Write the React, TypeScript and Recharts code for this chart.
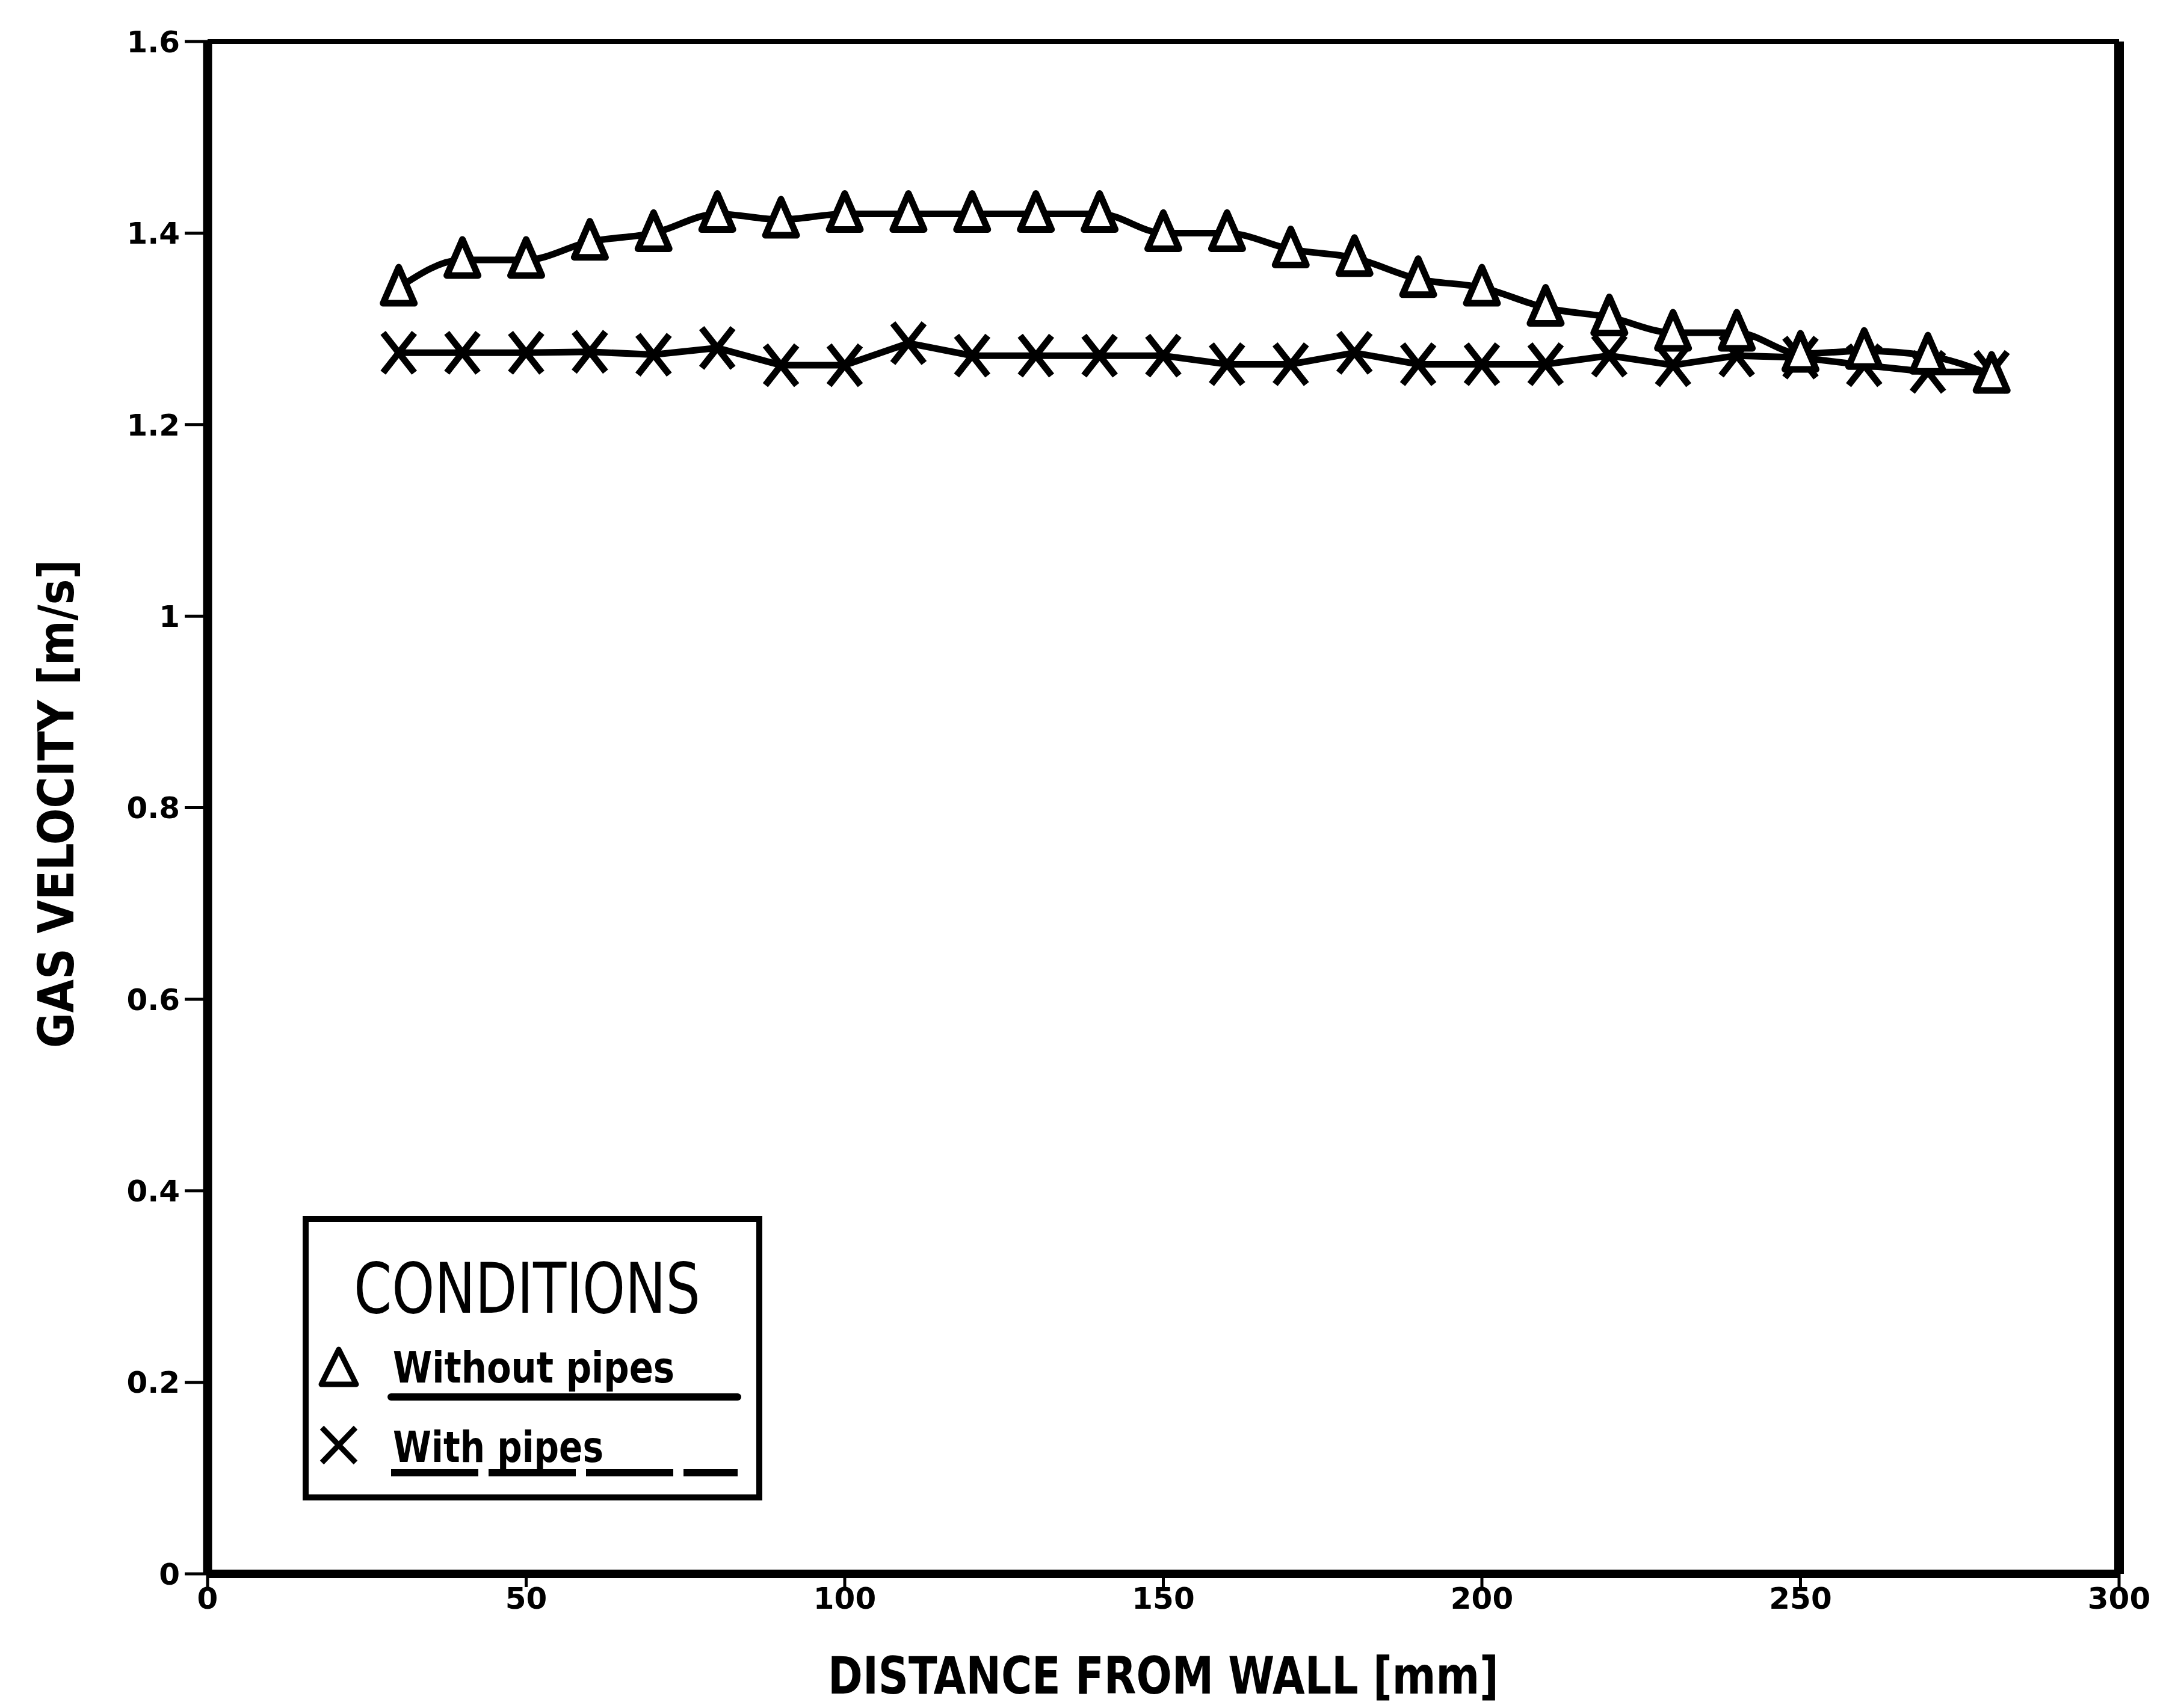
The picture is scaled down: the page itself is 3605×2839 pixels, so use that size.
import React from 'react';
import { LineChart, Line, XAxis, YAxis, ReferenceLine } from 'recharts';

const distances = [30, 40, 50, 60, 70, 80, 90, 100, 110, 120, 130, 140, 150, 160, 170, 180, 190, 200, 210, 220, 230, 240, 250, 260, 270, 280];
const withoutPipes = [1.343, 1.372, 1.372, 1.391, 1.4, 1.42, 1.414, 1.42, 1.42, 1.42, 1.42, 1.42, 1.4, 1.4, 1.383, 1.374, 1.352, 1.343, 1.322, 1.312, 1.296, 1.296, 1.274, 1.277, 1.272, 1.252];
const withPipes = [1.275, 1.275, 1.275, 1.276, 1.273, 1.28, 1.262, 1.262, 1.285, 1.272, 1.272, 1.272, 1.272, 1.263, 1.263, 1.275, 1.263, 1.263, 1.263, 1.272, 1.262, 1.272, 1.27, 1.262, 1.255, 1.255];
const xTicks = [0, 50, 100, 150, 200, 250, 300];
const yTicks = [0, 0.2, 0.4, 0.6, 0.8, 1, 1.2, 1.4, 1.6];

const data = distances.map((x, i) => ({ x, without: withoutPipes[i], with: withPipes[i] }));

const condensed = '"DejaVu Sans Condensed", "Liberation Sans Narrow", "DejaVu Sans", sans-serif';
const bold = '"DejaVu Sans", sans-serif';

const TriangleDot = (props: any) => {
  const { cx, cy } = props;
  if (cx == null || cy == null) return null;
  return (
    <path
      d={`M${cx},${cy - 34} L${cx + 26},${cy + 26} L${cx - 26},${cy + 26} Z`}
      fill="#fff"
      stroke="#000"
      strokeWidth={11}
      strokeLinejoin="round"
    />
  );
};

const CrossDot = (props: any) => {
  const { cx, cy } = props;
  if (cx == null || cy == null) return null;
  return (
    <path
      d={`M${cx - 26},${cy - 33} L${cx + 26},${cy + 33} M${cx + 26},${cy - 33} L${cx - 26},${cy + 33}`}
      stroke="#000"
      strokeWidth={11}
      fill="none"
    />
  );
};

const ConditionsBox = () => (
  <svg width={764} height={473} style={{ position: 'absolute', left: 503, top: 2021, display: 'block' }}>
    <rect x={5} y={5} width={754} height={463} fill="#fff" stroke="#000" strokeWidth={10} />
    <text x={373} y={161} textAnchor="middle" fontFamily={condensed} fontSize={116} textLength={576} lengthAdjust="spacingAndGlyphs" fill="#000">
      CONDITIONS
    </text>
    <path d="M60,222 L89,280 L31,280 Z" fill="none" stroke="#000" strokeWidth={9} strokeLinejoin="round" />
    <text x={150} y={277} fontFamily={bold} fontWeight="bold" fontSize={72} textLength={468} lengthAdjust="spacingAndGlyphs" fill="#000">
      Without pipes
    </text>
    <line x1={147} y1={301} x2={723} y2={301} stroke="#000" strokeWidth={12} strokeLinecap="round" />
    <path d="M32,352 L88,410 M88,352 L32,410" stroke="#000" strokeWidth={9} fill="none" />
    <text x={150} y={409} fontFamily={bold} fontWeight="bold" fontSize={72} textLength={350} lengthAdjust="spacingAndGlyphs" fill="#000">
      With pipes
    </text>
    <line x1={147} y1={427} x2={723} y2={427} stroke="#000" strokeWidth={12} strokeDasharray="145 17" />
  </svg>
);

const XTitle = (props: any) => {
  const { viewBox } = props;
  const cx = viewBox.x + viewBox.width / 2;
  return (
    <text x={cx} y={2815} textAnchor="middle" fontFamily={condensed} fontWeight="bold" fontSize={86} textLength={1115} lengthAdjust="spacingAndGlyphs" fill="#000">
      DISTANCE FROM WALL [mm]
    </text>
  );
};

const YTitle = () => (
  <text transform="translate(122,1336) rotate(-90)" textAnchor="middle" fontFamily={condensed} fontWeight="bold" fontSize={82} textLength={812} lengthAdjust="spacingAndGlyphs" fill="#000">
    GAS VELOCITY [m/s]
  </text>
);

const tickStyle = { fontSize: 50, fontWeight: 'bold', fill: '#000', fontFamily: bold };

export default function App() {
  return (
    <div style={{ position: 'absolute', left: 0, top: 0, width: 3605, height: 2839, background: '#fff' }}>
      <LineChart width={3605} height={2839} data={data} margin={{ top: 69, right: 83, left: 145, bottom: 43 }}>
        <XAxis
          dataKey="x"
          type="number"
          domain={[0, 300]}
          ticks={xTicks}
          height={180}
          tickSize={22}
          tickMargin={0}
          tick={tickStyle}
          axisLine={{ stroke: '#000', strokeWidth: 14 }}
          tickLine={{ stroke: '#000', strokeWidth: 5 }}
          label={<XTitle />}
        />
        <YAxis
          type="number"
          domain={[0, 1.6]}
          ticks={yTicks}
          width={200}
          tickSize={38}
          tickMargin={8}
          tick={tickStyle}
          axisLine={{ stroke: '#000', strokeWidth: 15 }}
          tickLine={{ stroke: '#000', strokeWidth: 5 }}
          label={<YTitle />}
        />
        <ReferenceLine y={1.6} stroke="#000" strokeWidth={8} />
        <ReferenceLine x={300} stroke="#000" strokeWidth={16} />
        <Line
          dataKey="with"
          type="linear"
          stroke="#000"
          strokeWidth={11}
          dot={<CrossDot />}
          activeDot={false}
          isAnimationActive={false}
        />
        <Line
          dataKey="without"
          type="monotone"
          stroke="#000"
          strokeWidth={11}
          dot={<TriangleDot />}
          activeDot={false}
          isAnimationActive={false}
        />
      </LineChart>
      <ConditionsBox />
    </div>
  );
}
